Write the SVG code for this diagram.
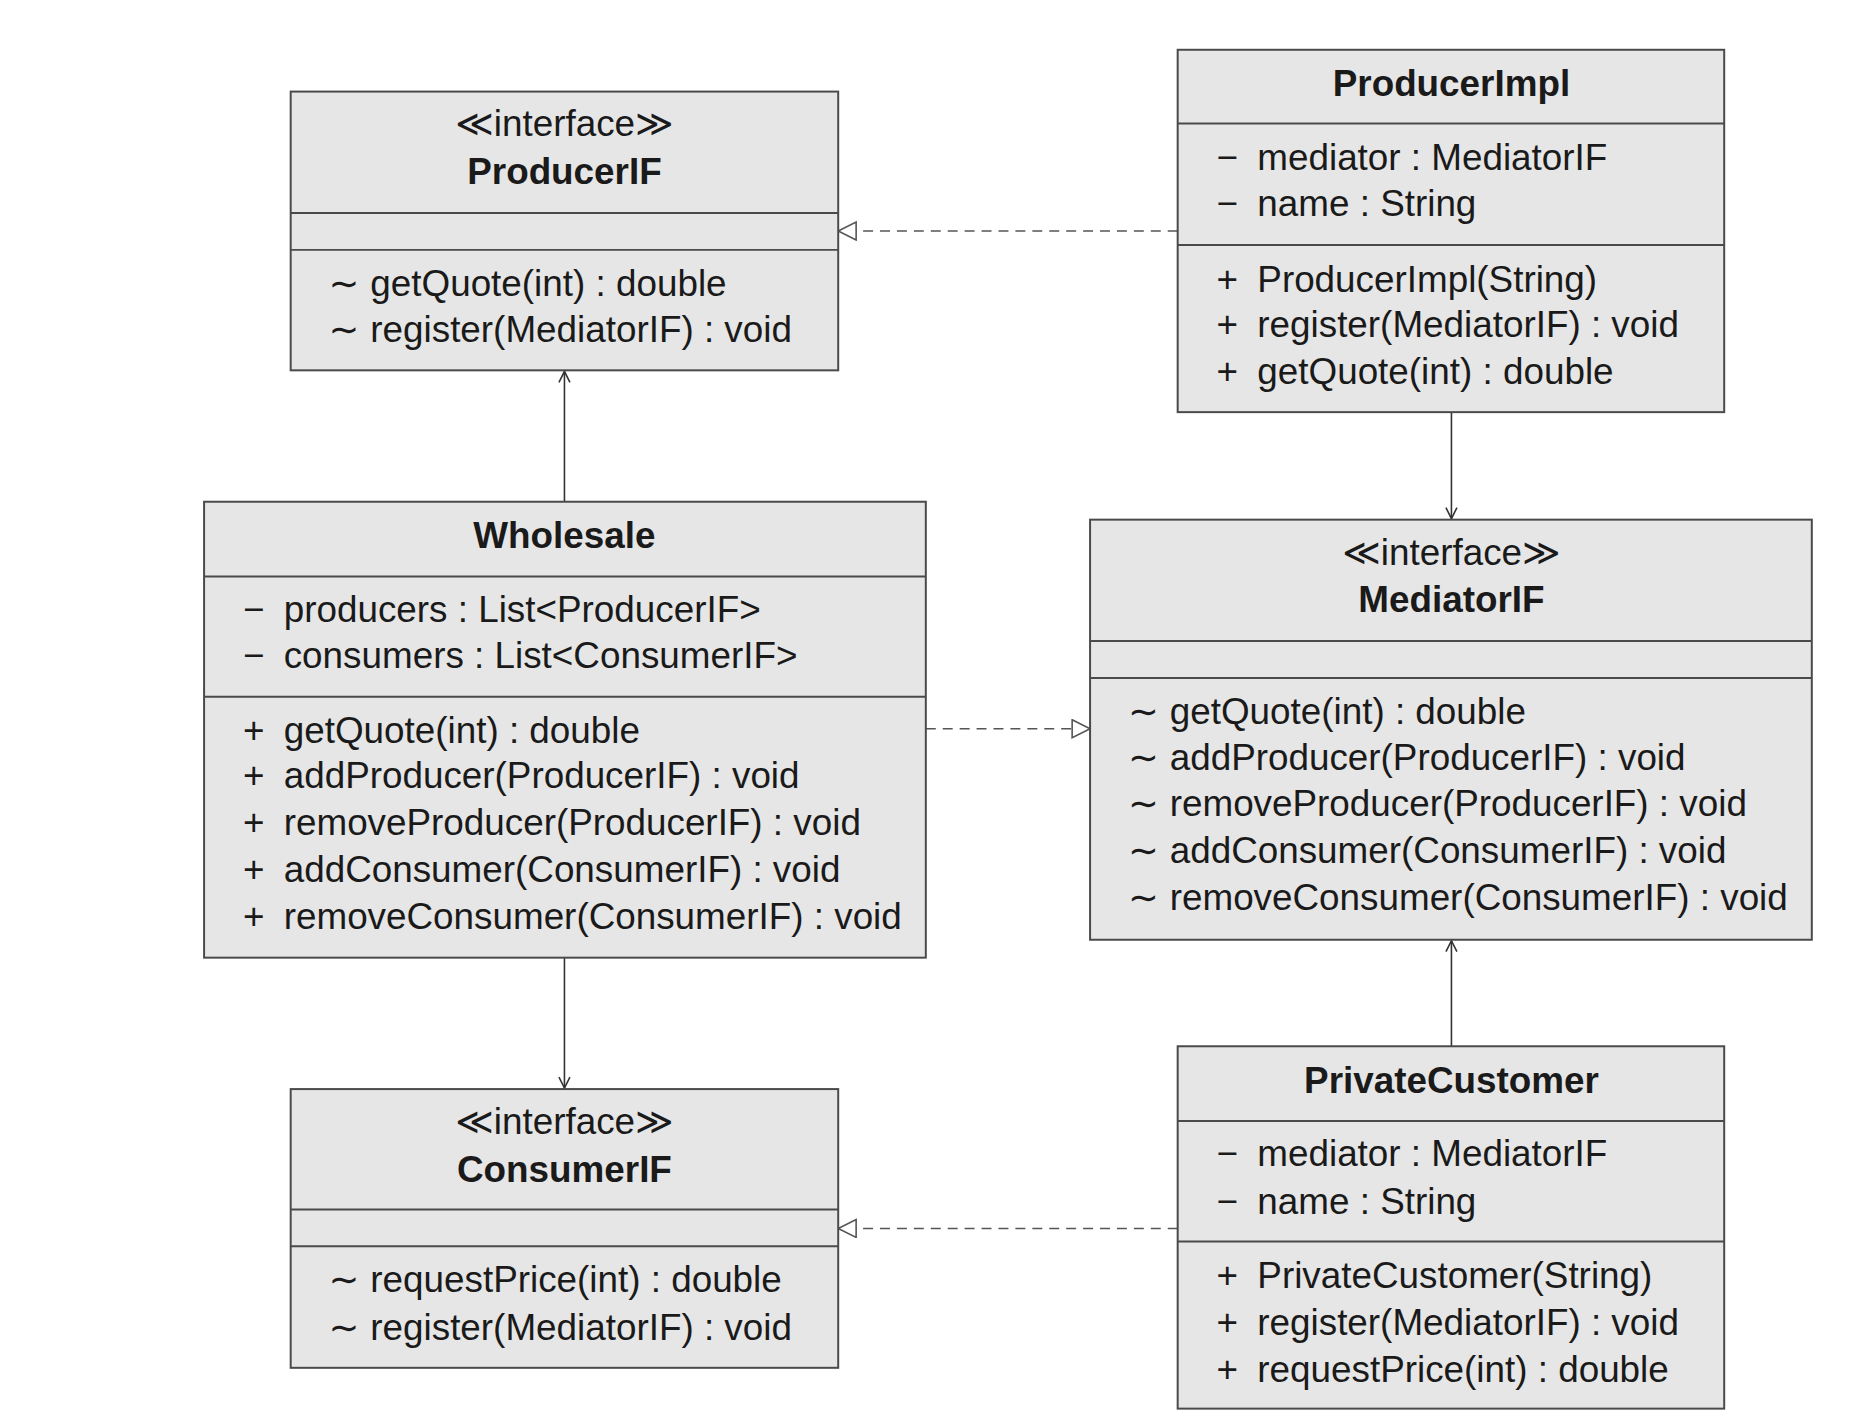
<svg xmlns="http://www.w3.org/2000/svg" width="1855" height="1424" viewBox="0 0 1855 1424">
<style>
.box{fill:#e6e6e6;stroke:#4a4a4a;stroke-width:2}
.div{stroke:#4a4a4a;stroke-width:2}
text{font-family:"Liberation Sans","DejaVu Sans",sans-serif;font-size:37px;fill:#1a1a1a}
.t{font-weight:bold;text-anchor:middle}
.s{text-anchor:middle}
.dash{stroke:#555;stroke-width:1.6;stroke-dasharray:10 7;fill:none}
.solid{stroke:#333;stroke-width:1.6;fill:none}
</style>
<defs>
<marker id="tri" markerWidth="22" markerHeight="22" refX="19" refY="10" orient="auto" markerUnits="userSpaceOnUse">
<path d="M1,1 L19,10 L1,19 Z" fill="#fff" stroke="#555" stroke-width="1.6"/>
</marker>
<marker id="open" markerWidth="16" markerHeight="16" refX="13" refY="8" orient="auto" markerUnits="userSpaceOnUse">
<path d="M2,2.5 L13,8 L2,13.5" fill="none" stroke="#333" stroke-width="1.6"/>
</marker>
</defs>
<g transform="scale(0.9955)">
<g id="connectors">
<line class="dash" x1="1183" y1="232" x2="842" y2="232" marker-end="url(#tri)"/>
<line class="solid" x1="567" y1="504" x2="567" y2="373" marker-end="url(#open)"/>
<line class="dash" x1="930" y1="732" x2="1095" y2="732" marker-end="url(#tri)"/>
<line class="solid" x1="567" y1="962" x2="567" y2="1093" marker-end="url(#open)"/>
<line class="solid" x1="1458" y1="414" x2="1458" y2="521" marker-end="url(#open)"/>
<line class="solid" x1="1458" y1="1051" x2="1458" y2="945" marker-end="url(#open)"/>
<line class="dash" x1="1183" y1="1234" x2="842" y2="1234" marker-end="url(#tri)"/>
</g>

<g id="ProducerIF">
<rect class="box" x="292" y="92" width="550" height="280"/>
<line class="div" x1="292" y1="214" x2="842" y2="214"/>
<line class="div" x1="292" y1="251" x2="842" y2="251"/>
<text class="s" x="567" y="137">≪interface≫</text>
<text class="t" x="567" y="185">ProducerIF</text>
<text x="330" y="297">∼</text><text x="372" y="297">getQuote(int) : double</text>
<text x="330" y="344">∼</text><text x="372" y="344">register(MediatorIF) : void</text>
</g>

<g id="ProducerImpl">
<rect class="box" x="1183" y="50" width="549" height="364"/>
<line class="div" x1="1183" y1="124" x2="1732" y2="124"/>
<line class="div" x1="1183" y1="246" x2="1732" y2="246"/>
<text class="t" x="1458" y="96">ProducerImpl</text>
<text x="1222" y="171">−</text><text x="1263" y="171">mediator : MediatorIF</text>
<text x="1222" y="217">−</text><text x="1263" y="217">name : String</text>
<text x="1222" y="293">+</text><text x="1263" y="293">ProducerImpl(String)</text>
<text x="1222" y="339">+</text><text x="1263" y="339">register(MediatorIF) : void</text>
<text x="1222" y="386">+</text><text x="1263" y="386">getQuote(int) : double</text>
</g>

<g id="Wholesale">
<rect class="box" x="205" y="504" width="725" height="458"/>
<line class="div" x1="205" y1="579" x2="930" y2="579"/>
<line class="div" x1="205" y1="700" x2="930" y2="700"/>
<text class="t" x="567" y="550">Wholesale</text>
<text x="244" y="625">−</text><text x="285" y="625">producers : List&lt;ProducerIF&gt;</text>
<text x="244" y="671">−</text><text x="285" y="671">consumers : List&lt;ConsumerIF&gt;</text>
<text x="244" y="746">+</text><text x="285" y="746">getQuote(int) : double</text>
<text x="244" y="792">+</text><text x="285" y="792">addProducer(ProducerIF) : void</text>
<text x="244" y="839">+</text><text x="285" y="839">removeProducer(ProducerIF) : void</text>
<text x="244" y="886">+</text><text x="285" y="886">addConsumer(ConsumerIF) : void</text>
<text x="244" y="933">+</text><text x="285" y="933">removeConsumer(ConsumerIF) : void</text>
</g>

<g id="MediatorIF">
<rect class="box" x="1095" y="522" width="725" height="422"/>
<line class="div" x1="1095" y1="644" x2="1820" y2="644"/>
<line class="div" x1="1095" y1="681" x2="1820" y2="681"/>
<text class="s" x="1458" y="568">≪interface≫</text>
<text class="t" x="1458" y="615">MediatorIF</text>
<text x="1133" y="727">∼</text><text x="1175" y="727">getQuote(int) : double</text>
<text x="1133" y="773">∼</text><text x="1175" y="773">addProducer(ProducerIF) : void</text>
<text x="1133" y="820">∼</text><text x="1175" y="820">removeProducer(ProducerIF) : void</text>
<text x="1133" y="867">∼</text><text x="1175" y="867">addConsumer(ConsumerIF) : void</text>
<text x="1133" y="914">∼</text><text x="1175" y="914">removeConsumer(ConsumerIF) : void</text>
</g>

<g id="ConsumerIF">
<rect class="box" x="292" y="1094" width="550" height="280"/>
<line class="div" x1="292" y1="1215" x2="842" y2="1215"/>
<line class="div" x1="292" y1="1252" x2="842" y2="1252"/>
<text class="s" x="567" y="1139">≪interface≫</text>
<text class="t" x="567" y="1187">ConsumerIF</text>
<text x="330" y="1298">∼</text><text x="372" y="1298">requestPrice(int) : double</text>
<text x="330" y="1346">∼</text><text x="372" y="1346">register(MediatorIF) : void</text>
</g>

<g id="PrivateCustomer">
<rect class="box" x="1183" y="1051" width="549" height="364"/>
<line class="div" x1="1183" y1="1126" x2="1732" y2="1126"/>
<line class="div" x1="1183" y1="1247" x2="1732" y2="1247"/>
<text class="t" x="1458" y="1098">PrivateCustomer</text>
<text x="1222" y="1171">−</text><text x="1263" y="1171">mediator : MediatorIF</text>
<text x="1222" y="1219">−</text><text x="1263" y="1219">name : String</text>
<text x="1222" y="1294">+</text><text x="1263" y="1294">PrivateCustomer(String)</text>
<text x="1222" y="1341">+</text><text x="1263" y="1341">register(MediatorIF) : void</text>
<text x="1222" y="1388">+</text><text x="1263" y="1388">requestPrice(int) : double</text>
</g>
</g>
</svg>
